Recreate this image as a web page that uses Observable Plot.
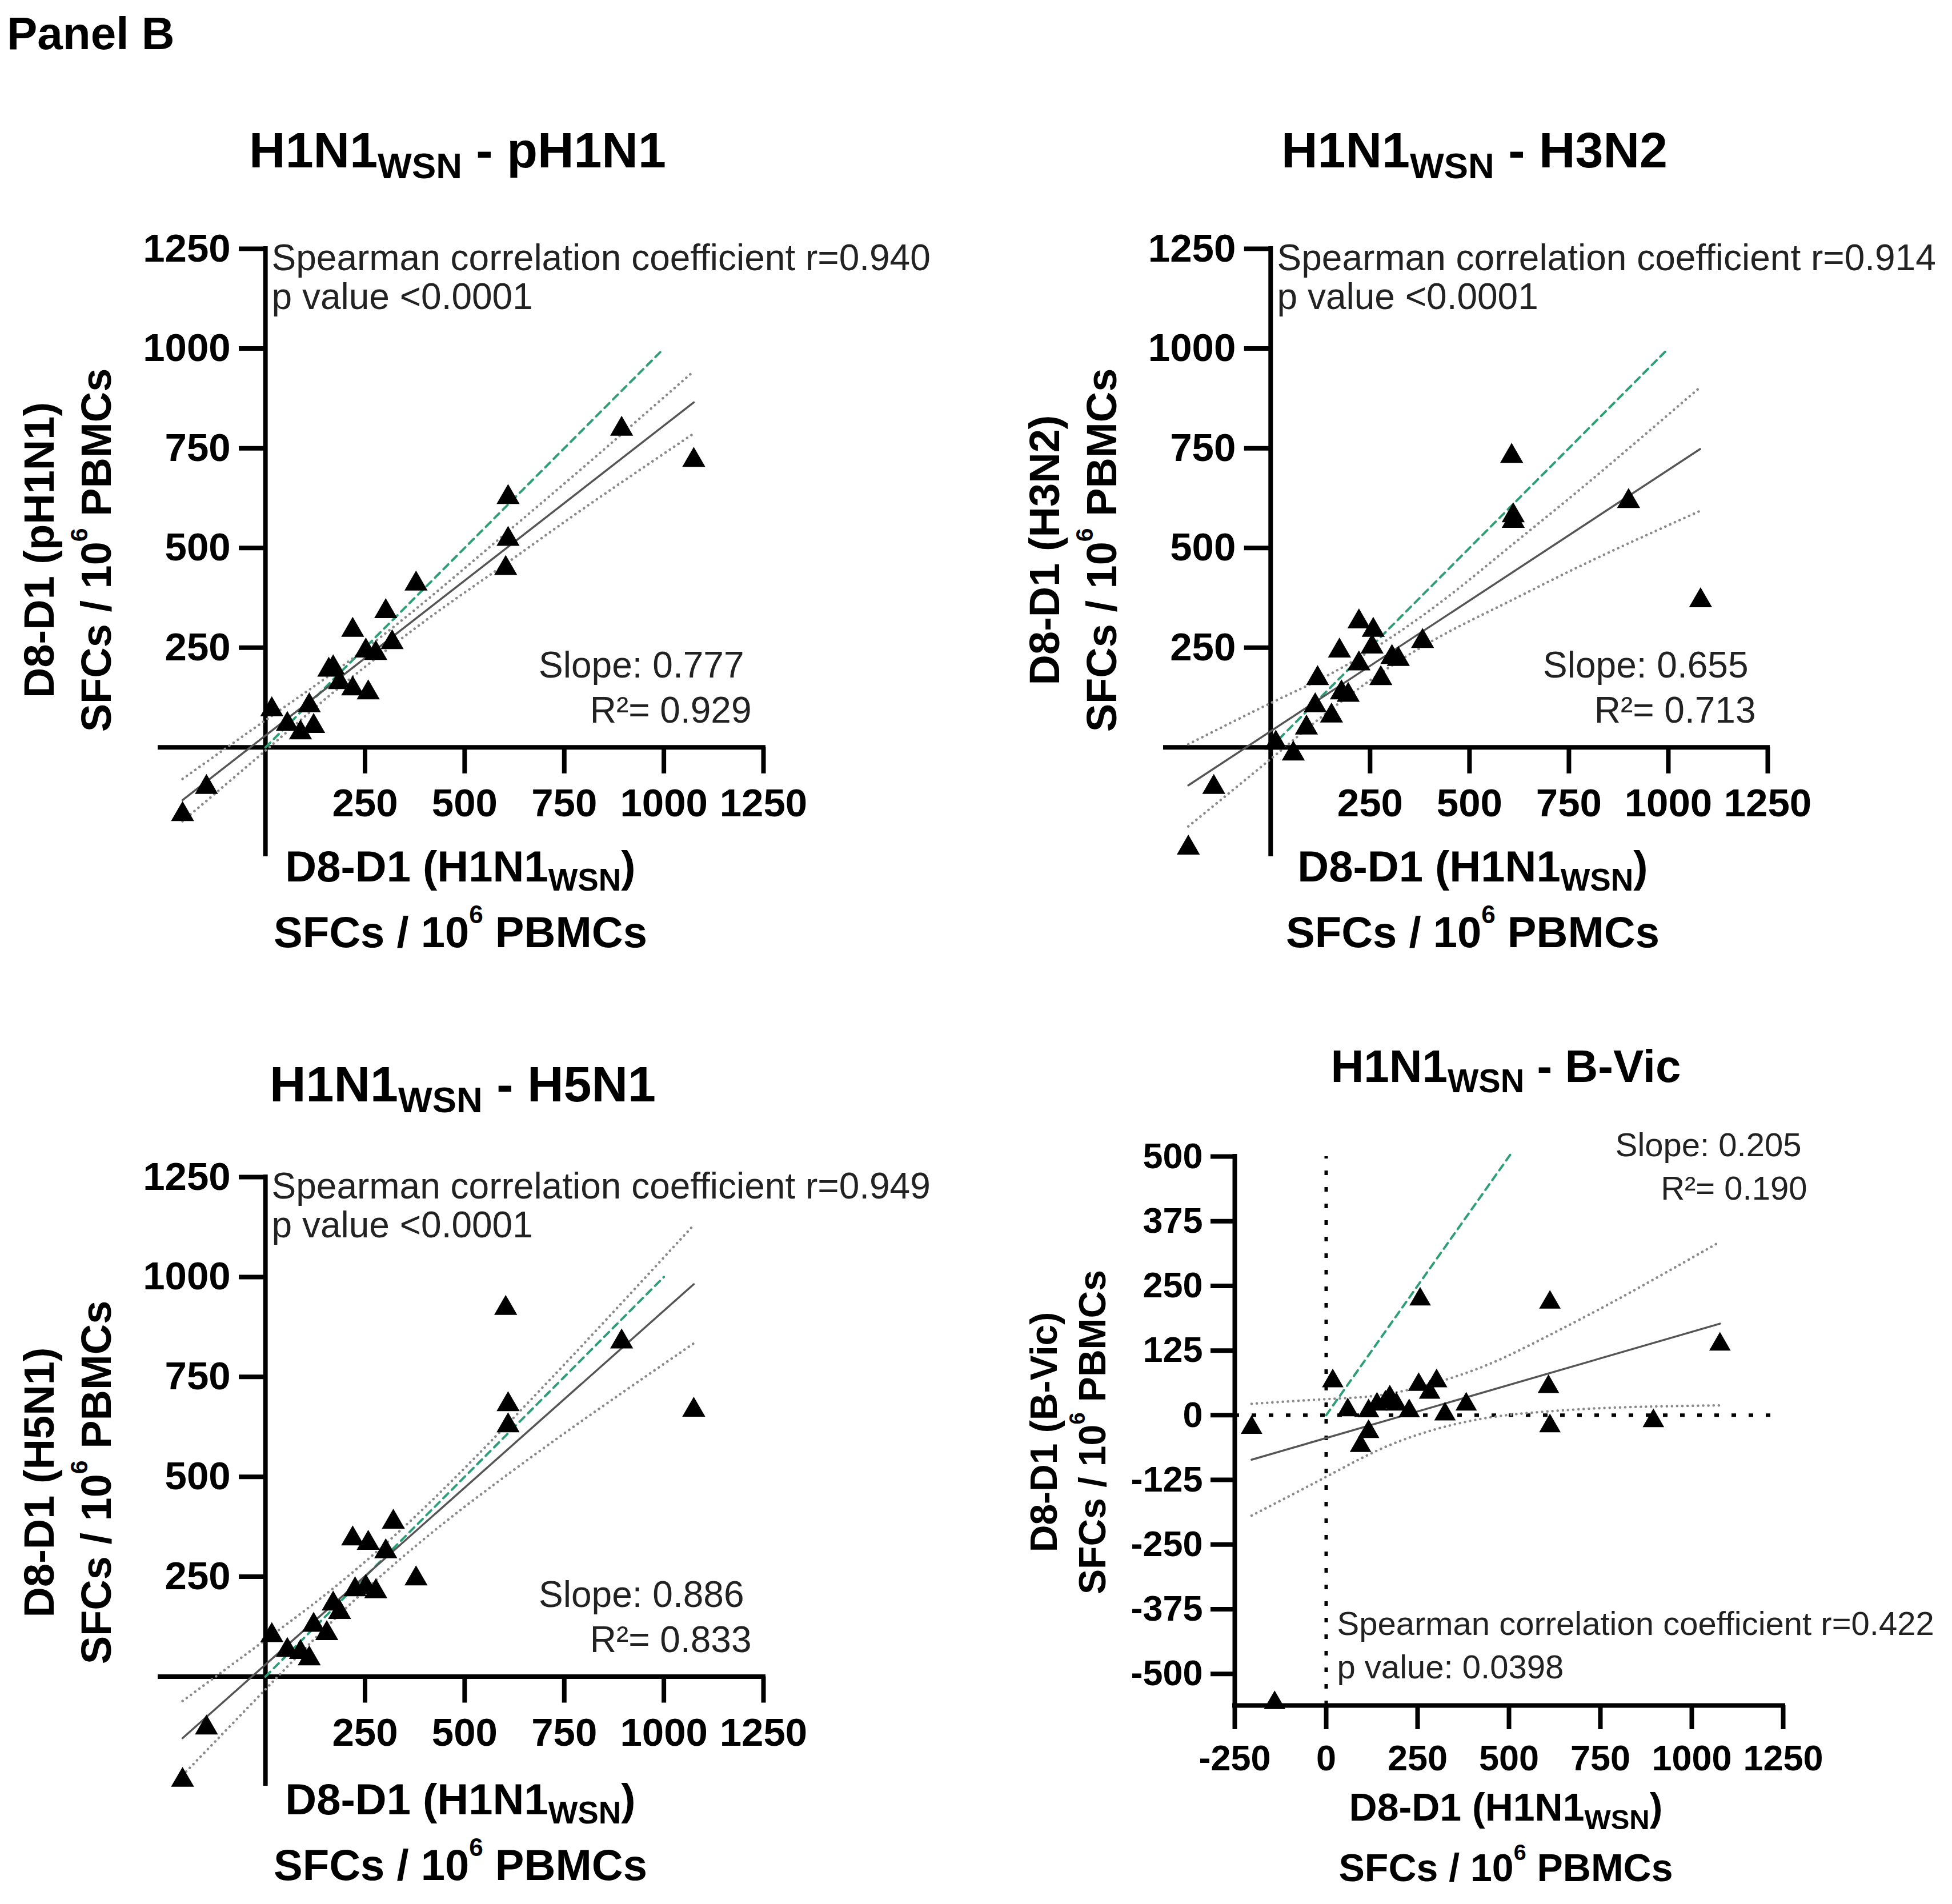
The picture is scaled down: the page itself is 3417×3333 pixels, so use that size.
<!DOCTYPE html>
<html>
<head>
<meta charset="utf-8">
<script src="https://cdn.jsdelivr.net/npm/d3@7"></script>
<script src="https://cdn.jsdelivr.net/npm/@observablehq/plot@0.6"></script>
<style>
body { margin: 0; background: #fff; }
#fig { position: relative; width: 3417px; height: 3333px; overflow: hidden; font-family: "Liberation Sans", Arial, sans-serif; }
#fig svg { position: absolute; }
.lbl { position: absolute; font-weight: bold; line-height: 1; white-space: nowrap; color: #000; text-align: center; width: 1400px; }
.lbl sub { font-size: 0.72em; position: relative; top: 0.3em; vertical-align: baseline; line-height: 0; }
.lbl sup { font-size: 0.58em; position: relative; top: -0.95em; vertical-align: baseline; line-height: 0; }
</style>
</head>
<body>
<div id="fig"></div>
<script>
// ---- data ----

// H1N1wsn vs pH1N1
const x1 = [894, 1075, 609, 609, 603, 378, 302, 219, 318, 252, 277, 159, 170, 186, 219, 258, 16, 110, 121, 88, 55, -148, -208];
const y1 = [798, 720, 627, 522, 449, 410, 341, 294, 263, 242, 236, 194, 200, 163, 147, 137, 95, 105, 53, 37, 58, -100, -168];
const fitX1 = [-208, 1075];
const fitY1 = [-132, 865];
const ciX1 = [-208, 0, 150, 300, 450, 600, 800, 1075];
const ciHi1 = [-79, 68, 173, 285, 407, 534, 704, 943];
const ciLo1 = [-185, -8, 121, 241, 353, 458, 600, 787];

// H1N1wsn vs H3N2
const x2 = [606, 900, 1081, 610, 610, 222, 258, 255, 382, 173, 222, 305, 321, 118, 277, 178, 195, 112, 153, 90, 13, 57, -143, -207];
const y2 = [730, 617, 368, 581, 567, 315, 294, 252, 266, 242, 210, 226, 221, 173, 173, 137, 131, 105, 79, 49, 11, -16, -100, -252];
const fitX2 = [-207, 1080];
const fitY2 = [-95, 748];
const ciX2 = [-207, 0, 150, 300, 450, 600, 800, 1080];
const ciHi2 = [8, 111, 184, 274, 381, 502, 665, 903];
const ciLo2 = [-198, -29, 94, 202, 291, 366, 465, 593];

// H1N1wsn vs H5N1
const x3 = [603, 894, 1075, 609, 609, 321, 219, 258, 302, 378, 225, 252, 277, 170, 186, 121, 154, 16, 55, 88, 110, -148, -208];
const y3 = [922, 838, 667, 681, 628, 387, 345, 334, 313, 245, 218, 224, 213, 182, 161, 129, 108, 103, 66, 61, 45, -128, -259];
const fitX3 = [-208, 1075];
const fitY3 = [-154, 982];
const ciX3 = [-208, 0, 150, 300, 450, 600, 800, 1075];
const ciHi3 = [-61, 92, 205, 331, 472, 624, 834, 1130];
const ciLo3 = [-247, -32, 121, 261, 386, 500, 644, 834];

// H1N1wsn vs B-Vic
const x4 = [257, 612, 1077, 18, 253, 302, 283, 608, 174, 162, 192, 59, 116, 227, 325, 383, 612, 895, 116, 94, -204, -141, 139];
const y4 = [224, 218, 137, 66, 59, 66, 44, 55, 35, 25, 21, 10, 8, 8, 2, 21, -21, -11, -32, -59, -24, -556, 21];
const fitX4 = [-204, 1077];
const fitY4 = [-86, 177];
const ciX4 = [-204, 0, 150, 300, 450, 600, 800, 1077];
const ciHi4 = [22, 31, 39, 63, 100, 151, 225, 335];
const ciLo4 = [-194, -119, -65, -27, -4, 7, 15, 19];

// line of identity (y = x)
const idX = [0, 1000];
const idY = [0, 1000];
const idX4 = [0, 505];
const idY4 = [0, 505];

// ticks
const ticksPos = [250, 500, 750, 1000, 1250];
const ticksX4 = [-250, 0, 250, 500, 750, 1000, 1250];
const ticksY4 = [-500, -375, -250, -125, 0, 125, 250, 375, 500];

const fig = document.getElementById("fig");
const font = '"Liberation Sans", Arial, sans-serif';

function zip(xs, ys) {
    return xs.map((x, i) => ({x: x, y: ys[i]}));
}

function panel(c) {
    let pts = zip(c.x, c.y);
    let band = c.ciX.map((x, i) => ({x: x, lo: c.ciLo[i], hi: c.ciHi[i]}));
    let marks = [];
    let dotted = {stroke: "#8a8a8a", strokeWidth: 4.5, strokeDasharray: "0.1,9", strokeLinecap: "round", curve: "natural"};

    // reference dotted lines at zero (B-Vic only)
    if (c.zeroLines) {
        marks.push(Plot.ruleX([0], {y1: c.yDomain[0], y2: c.yDomain[1], stroke: "#000", strokeWidth: 6, strokeDasharray: "8,21"}));
        marks.push(Plot.ruleY([0], {x1: c.xDomain[0], x2: c.xDomain[1], stroke: "#000", strokeWidth: 6, strokeDasharray: "8,22"}));
    }

    // axes drawn through the scales, crossing where GraphPad puts them
    marks.push(Plot.ruleY([c.xAxisAt], {x1: c.xDomain[0], x2: c.xDomain[1], stroke: "#000", strokeWidth: 8, strokeLinecap: "square"}));
    marks.push(Plot.ruleX([c.yAxisAt], {y1: c.yDomain[0], y2: c.yDomain[1], stroke: "#000", strokeWidth: 8, strokeLinecap: "square"}));
    marks.push(Plot.ruleX(c.xTicks, {x: d => d, y1: c.xAxisAt, y2: c.xAxisAt, insetBottom: -c.tickLen, stroke: "#000", strokeWidth: 8}));
    marks.push(Plot.ruleY(c.yTicks, {y: d => d, x1: c.yAxisAt, x2: c.yAxisAt, insetLeft: -c.tickLen, stroke: "#000", strokeWidth: 8}));
    marks.push(Plot.text(c.xTicks, {x: d => d, y: c.xAxisAt, text: d => String(d), dy: c.xLabelDy, fontSize: c.tickFont, fontWeight: "bold", fill: "#000", lineAnchor: "middle"}));
    marks.push(Plot.text(c.yTicks, {y: d => d, x: c.yAxisAt, text: d => String(d), dx: c.yLabelDx, fontSize: c.tickFont, fontWeight: "bold", fill: "#000", textAnchor: "end", lineAnchor: "middle"}));

    // identity, confidence band, regression
    marks.push(Plot.line(zip(c.idX, c.idY), {x: "x", y: "y", stroke: "#2e9e75", strokeWidth: 4, strokeDasharray: "12,9"}));
    marks.push(Plot.line(band, {x: "x", y: "hi", ...dotted}));
    marks.push(Plot.line(band, {x: "x", y: "lo", ...dotted}));
    marks.push(Plot.line(zip(c.fitX, c.fitY), {x: "x", y: "y", stroke: "#555", strokeWidth: 3.5}));

    marks.push(Plot.dot(pts, {x: "x", y: "y", symbol: "triangle", r: c.r, fill: "#000", stroke: "none"}));

    // text notes
    for (let n of c.notes) {
        marks.push(Plot.text([n.t], {text: d => d, frameAnchor: n.at, dx: n.dx, dy: n.dy,
            textAnchor: n.at.endsWith("left") ? "start" : "end", lineAnchor: "bottom",
            fontSize: c.noteFont, fill: "#222"}));
    }

    let svg = Plot.plot({
        width: c.w, height: c.h,
        marginLeft: c.ml, marginRight: c.mr, marginTop: c.mt, marginBottom: c.mb,
        x: {domain: c.xDomain, axis: null},
        y: {domain: c.yDomain, axis: null},
        style: {background: "transparent", overflow: "visible", fontFamily: font},
        marks: marks
    });
    svg.style.left = c.left + "px";
    svg.style.top = c.top + "px";
    fig.append(svg);
}

function notesTop(r, p, slope, r2) {
    return [
        {t: "Spearman correlation coefficient r=" + r, at: "top-left", dx: 195, dy: 37},
        {t: "p value <" + p, at: "top-left", dx: 195, dy: 105},
        {t: "Slope: " + slope, at: "bottom-right", dx: -34, dy: -310},
        {t: "R²= " + r2, at: "bottom-right", dx: -21, dy: -231}
    ];
}

let common = {
    xDomain: [-264, 1250], yDomain: [-268, 1250], xAxisAt: 0, yAxisAt: 0,
    xTicks: ticksPos, yTicks: ticksPos, tickLen: 46, xLabelDy: 99, yLabelDx: -61,
    tickFont: 69, noteFont: 64, r: 15, idX: idX, idY: idY,
    ml: 80, mt: 55
};

panel(Object.assign({}, common, {
    x: x1, y: y1, fitX: fitX1, fitY: fitY1, ciX: ciX1, ciHi: ciHi1, ciLo: ciLo1,
    left: 200, top: 380, w: 1500, h: 1140, mr: 364, mb: 25,
    notes: notesTop("0.940", "0.0001", "0.777", "0.929")
}));

panel(Object.assign({}, common, {
    x: x2, y: y2, fitX: fitX2, fitY: fitY2, ciX: ciX2, ciHi: ciHi2, ciLo: ciLo2,
    left: 1960, top: 380, w: 1457, h: 1140, mr: 323, mb: 25,
    notes: notesTop("0.914", "0.0001", "0.655", "0.713")
}));

panel(Object.assign({}, common, {
    x: x3, y: y3, fitX: fitX3, fitY: fitY3, ciX: ciX3, ciHi: ciHi3, ciLo: ciLo3,
    left: 200, top: 2005, w: 1500, h: 1140, mr: 364, mb: 23,
    notes: notesTop("0.949", "0.0001", "0.886", "0.833")
}));

panel({
    x: x4, y: y4, fitX: fitX4, fitY: fitY4, ciX: ciX4, ciHi: ciHi4, ciLo: ciLo4,
    idX: idX4, idY: idY4, zeroLines: true,
    xDomain: [-250, 1250], yDomain: [-561, 500], xAxisAt: -561, yAxisAt: -250,
    xTicks: ticksX4, yTicks: ticksY4, tickLen: 42, xLabelDy: 93, yLabelDx: -56,
    tickFont: 63, noteFont: 58, r: 14,
    left: 1960, top: 1960, w: 1457, h: 1180, ml: 201, mr: 296, mt: 64, mb: 155,
    notes: [
        {t: "Slope: 0.205", at: "top-right", dx: 32, dy: -1},
        {t: "R²= 0.190", at: "top-right", dx: 42, dy: 75},
        {t: "Spearman correlation coefficient r=0.422", at: "bottom-left", dx: 179, dy: -124},
        {t: "p value: 0.0398", at: "bottom-left", dx: 179, dy: -48}
    ]
});

// ---- html text: titles and axis titles ----
function label(html, cx, base, size, rotated) {
    let el = document.createElement("div");
    el.className = "lbl";
    el.innerHTML = html;
    el.style.fontSize = size + "px";
    if (!rotated) {
        el.style.left = (cx - 700) + "px";
        el.style.top = (base - 0.8465 * size) + "px";
    } else {
        // cx is the baseline x, base is the vertical centre
        let mid = cx - 0.3465 * size;
        el.style.left = (mid - 700) + "px";
        el.style.top = (base - size / 2) + "px";
        el.style.height = size + "px";
        el.style.transform = "rotate(-90deg)";
    }
    fig.append(el);
}

const wsn = "H1N1<sub>WSN</sub>";
const sfc = "SFCs / 10<sup>6</sup> PBMCs";

let pb = document.createElement("div");
pb.className = "lbl";
pb.style.textAlign = "left";
pb.style.fontSize = "80px";
pb.style.left = "12px";
pb.style.top = (87 - 0.8465 * 80) + "px";
pb.textContent = "Panel B";
fig.append(pb);

label(wsn + " - pH1N1", 801, 293, 88);
label(wsn + " - H3N2", 2581, 293, 88);
label(wsn + " - H5N1", 810, 1928, 88);
label(wsn + " - B-Vic", 2636, 1895, 80);

label("D8-D1 (" + wsn + ")", 806, 1543, 76);
label(sfc, 806, 1658, 76);
label("D8-D1 (" + wsn + ")", 2578, 1543, 76);
label(sfc, 2578, 1658, 76);
label("D8-D1 (" + wsn + ")", 806, 3176, 76);
label(sfc, 806, 3291, 76);
label("D8-D1 (" + wsn + ")", 2636, 3187, 68);
label(sfc, 2636, 3293, 68);

label("D8-D1 (pH1N1)", 95, 963, 74, true);
label(sfc, 195, 963, 74, true);
label("D8-D1 (H3N2)", 1855, 963, 74, true);
label(sfc, 1955, 963, 74, true);
label("D8-D1 (H5N1)", 95, 2595, 74, true);
label(sfc, 195, 2595, 74, true);
label("D8-D1 (B-Vic)", 1850, 2507, 66, true);
label(sfc, 1935, 2507, 66, true);
</script>
</body>
</html>
